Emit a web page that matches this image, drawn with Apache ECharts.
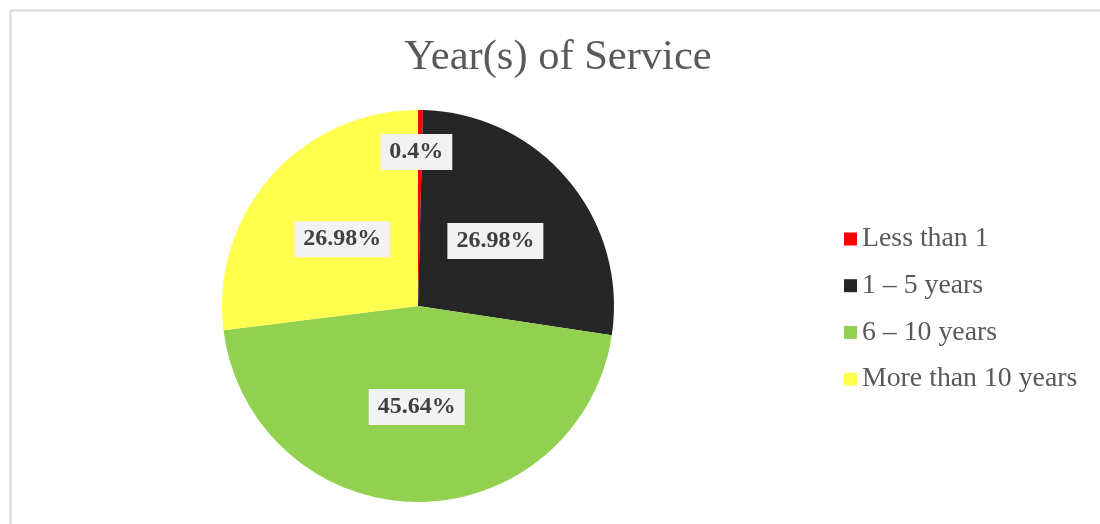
<!DOCTYPE html>
<html>
<head>
<meta charset="utf-8">
<script src="https://cdn.jsdelivr.net/npm/echarts@6/dist/echarts.min.js"></script>
<style>html,body{margin:0;padding:0;background:#fff;}#c{width:1100px;height:524px;}</style>
</head>
<body>
<div id="c"></div>
<script>
const titleText = 'Year(s) of Service';
const categories = ['Less than 1', '1 – 5 years', '6 – 10 years', 'More than 10 years'];
const values = [0.4, 26.98, 45.64, 26.98];
const colors = ['#ff0000', '#262626', '#92d050', '#ffff4d'];

const FONT = "'Liberation Serif', 'Times New Roman', serif";
const chart = echarts.init(document.getElementById('c'), null, {renderer: 'canvas'});
chart.setOption({
  animation: false,
  backgroundColor: '#ffffff',
  graphic: [{
    type: 'rect', left: 8, top: 8, silent: true,
    shape: {x: 0, y: 0, width: 1110, height: 530},
    style: {fill: 'none', stroke: '#d9d9d9', lineWidth: 2}
  }],
  title: {
    text: titleText, left: 553, top: 31, textAlign: 'center',
    textStyle: {fontFamily: FONT, fontSize: 42.5, fontWeight: 'normal', color: '#595959'}
  },
  legend: {
    orient: 'vertical', left: 839, top: 219,
    itemWidth: 13, itemHeight: 13, itemGap: 16.7,
    icon: 'rect',
    textStyle: {fontFamily: FONT, fontSize: 27.8, color: '#595959', lineHeight: 30},
    data: categories
  },
  series: [{
    type: 'pie',
    center: [418, 306],
    radius: 196,
    startAngle: 90,
    clockwise: true,
    avoidLabelOverlap: false,
    itemStyle: {borderWidth: 0},
    label: {
      show: true, position: 'inside',
      formatter: p => values[p.dataIndex] + '%',
      fontFamily: FONT, fontSize: 24, fontWeight: 'bold', color: '#404040',
      backgroundColor: '#f2f2f2', padding: [7, 9, 5, 9]
    },
    labelLine: {show: false},
    labelLayout: function (params) {
      if (params.dataIndex === 0) return {dx: -3, dy: -53};
      return {};
    },
    data: categories.map((n, i) => ({name: n, value: values[i], itemStyle: {color: colors[i]}}))
  }]
});
</script>
</body>
</html>
